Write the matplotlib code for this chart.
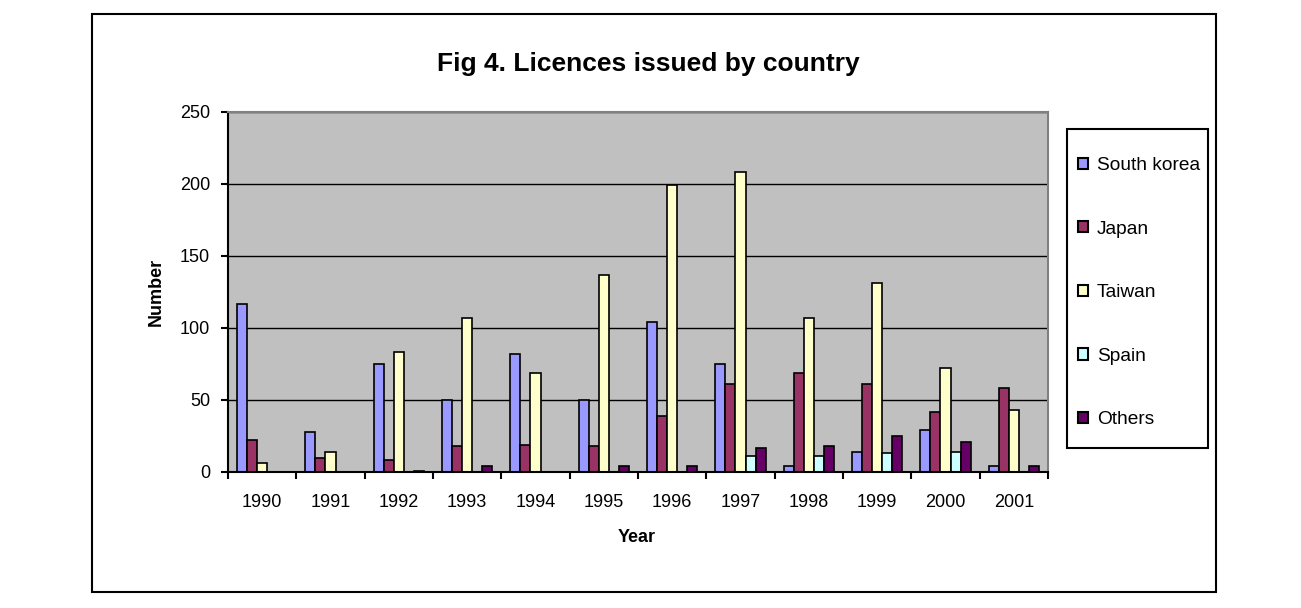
import matplotlib
matplotlib.use("Agg")
import matplotlib.pyplot as plt
import numpy as np
from matplotlib.patches import Rectangle, Patch

years = ["1990", "1991", "1992", "1993", "1994", "1995", "1996", "1997", "1998", "1999", "2000", "2001"]
south_korea = [117, 28, 75, 50, 82, 50, 104, 75, 4, 14, 29, 4]
japan = [22, 10, 8, 18, 19, 18, 39, 61, 69, 61, 42, 58]
taiwan = [6, 14, 83, 107, 69, 137, 199, 208, 107, 131, 72, 43]
spain = [0, 0, 0, 0, 0, 0, 0, 11, 11, 13, 14, 0]
others = [0, 0, 1, 4, 0, 4, 4, 17, 18, 25, 21, 4]

series_names = ["South korea", "Japan", "Taiwan", "Spain", "Others"]
series_values = [south_korea, japan, taiwan, spain, others]
colors = ["#9999FF", "#993366", "#FFFFCC", "#CCFFFF", "#660066"]

plt.rcParams['font.family'] = ['Liberation Sans', 'DejaVu Sans']

W, H = 1301, 608
fig = plt.figure(figsize=(W / 100, H / 100), dpi=100)

# outer chart border
fig.patches.append(Rectangle((92 / W, 1 - 592 / H), (1216 - 92) / W, (592 - 14) / H,
                             transform=fig.transFigure, fill=False, edgecolor="black",
                             linewidth=1.5, zorder=0))
# legend box
fig.patches.append(Rectangle((1067 / W, 1 - 448 / H), (1208 - 1067) / W, (448 - 129) / H,
                             transform=fig.transFigure, fill=False, edgecolor="black",
                             linewidth=1.5, zorder=0))

ax = fig.add_axes([228 / W, 1 - 472 / H, (1048 - 228) / W, (472 - 112) / H])
ax.set_facecolor("#C0C0C0")

x = np.arange(len(years))
w = 10 / 68.3
for k, (name, vals, c) in enumerate(zip(series_names, series_values, colors)):
    ax.bar(x + (k - 2) * w, vals, width=w, color=c, edgecolor="black",
           linewidth=1.2, label=name, zorder=3)

ax.set_xlim(-0.5, len(years) - 0.5)
ax.set_ylim(0, 250)
ax.set_yticks(np.arange(0, 251, 50))
ax.yaxis.grid(True, color="black", linewidth=1.0, zorder=1)
ax.set_axisbelow(True)

ax.set_xticks(x)
ax.set_xticklabels(years)
ax.set_xticks(np.arange(-0.5, len(years) - 0.4, 1.0), minor=True)
ax.tick_params(axis="x", which="major", length=0, pad=16, labelsize=13)
ax.tick_params(axis="x", which="minor", length=5, width=1.5, direction="out", color="black")
ax.tick_params(axis="y", which="major", length=5, width=1.5, direction="out", pad=8, labelsize=13)

for side in ["top", "right"]:
    ax.spines[side].set_color("#808080")
    ax.spines[side].set_linewidth(1.5)
for side in ["left", "bottom"]:
    ax.spines[side].set_color("black")
    ax.spines[side].set_linewidth(1.5)
ax.spines["bottom"].set_zorder(5)

fig.text(648 / W, 1 - 71 / H, "Fig 4. Licences issued by country", ha="center",
         va="baseline", fontsize=19, fontweight="bold")
fig.text(637 / W, 1 - 537 / H, "Year", ha="center", va="center", fontsize=13, fontweight="bold")
fig.text(156 / W, 1 - 292 / H, "Number", ha="center", va="center", fontsize=13,
         fontweight="bold", rotation=90)

handles = [Patch(facecolor=c, edgecolor="black", linewidth=1.5) for c in colors]
leg = fig.legend(handles, series_names, loc="upper left",
                 bbox_to_anchor=(1078 / W, 1 - 157 / H), bbox_transform=fig.transFigure,
                 fontsize=13.8, frameon=False,
                 handlelength=0.52, handleheight=0.52, handletextpad=0.47,
                 labelspacing=2.43, borderpad=0, borderaxespad=0)

fig.savefig("out.png", dpi=100)
